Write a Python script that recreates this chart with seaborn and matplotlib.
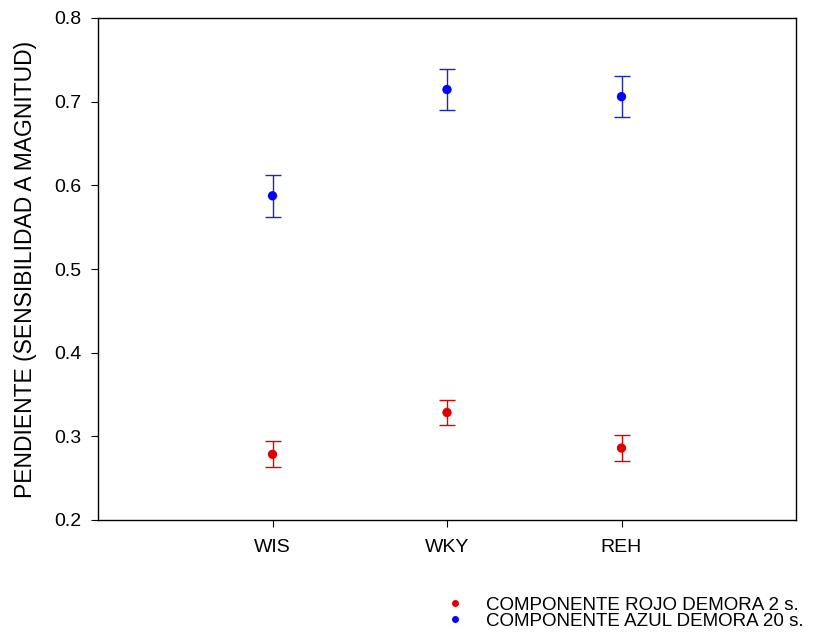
import numpy as np
import pandas as pd
import matplotlib
import matplotlib.pyplot as plt
import seaborn as sns

matplotlib.use("Agg")

sns.set_style("ticks")
plt.rcParams["font.family"] = ["Liberation Sans", "DejaVu Sans"]
plt.rcParams["text.color"] = "black"
plt.rcParams["xtick.color"] = "black"
plt.rcParams["ytick.color"] = "black"
plt.rcParams["axes.labelcolor"] = "black"

# Datos
cepas = ["WIS", "WKY", "REH"]
rojo_media = [0.2785, 0.3285, 0.2860]
rojo_err = [0.0155, 0.0155, 0.0155]
azul_media = [0.5875, 0.7145, 0.7060]
azul_err = [0.0248, 0.0248, 0.0245]

ROJO = "#e00000"
AZUL = "#0000ff"

lab_rojo = "COMPONENTE ROJO DEMORA 2 s."
lab_azul = "COMPONENTE AZUL DEMORA 20 s."

pos = np.arange(1, len(cepas) + 1)
df = pd.DataFrame({
    "x": np.concatenate([pos, pos]),
    "y": rojo_media + azul_media,
    "err": rojo_err + azul_err,
    "serie": [lab_rojo] * 3 + [lab_azul] * 3,
})

fig, ax = plt.subplots(figsize=(8.26, 6.37), dpi=100)
fig.subplots_adjust(left=98 / 826, right=796 / 826, top=1 - 18 / 637, bottom=1 - 520 / 637)

ax.errorbar(pos, rojo_media, yerr=rojo_err, fmt="none", ecolor=ROJO,
            elinewidth=1, capsize=6, capthick=1, zorder=2)
ax.errorbar(pos, azul_media, yerr=azul_err, fmt="none", ecolor="#2424b4",
            elinewidth=1, capsize=6, capthick=1, zorder=2)
sns.scatterplot(data=df, x="x", y="y", hue="serie",
                palette={lab_rojo: ROJO, lab_azul: AZUL},
                s=45, edgecolor="none", ax=ax, zorder=3, legend=False)

ax.set_xlim(0, 4)
ax.set_ylim(0.2, 0.8)
ax.set_xticks(pos)
ax.set_xticklabels(cepas)
ax.set_yticks(np.arange(0.2, 0.81, 0.1))
ax.set_yticklabels([f"{v:.1f}" for v in np.arange(0.2, 0.81, 0.1)])
ax.tick_params(labelsize=14, length=5, width=0.8, color="black")
ax.tick_params(axis="x", pad=9)
ax.tick_params(axis="y", pad=7)
ax.set_xlabel("")
ax.set_ylabel("PENDIENTE (SENSIBILIDAD A MAGNITUD)", fontsize=16.5, labelpad=12)
for s in ax.spines.values():
    s.set_visible(True)
    s.set_linewidth(1)
    s.set_color("black")

h1 = plt.Line2D([], [], ls="none", marker="o", ms=5, color=ROJO, mec="none")
h2 = plt.Line2D([], [], ls="none", marker="o", ms=5, color=AZUL, mec="none")
fig.legend([h1, h2], [lab_rojo, lab_azul], loc="upper left",
           bbox_to_anchor=(432 / 826, 1 - 587 / 637), frameon=False,
           fontsize=13.5, handlelength=1.5, handletextpad=0.9,
           labelspacing=-0.05, borderpad=0)

fig.savefig("out.png", dpi=100)
